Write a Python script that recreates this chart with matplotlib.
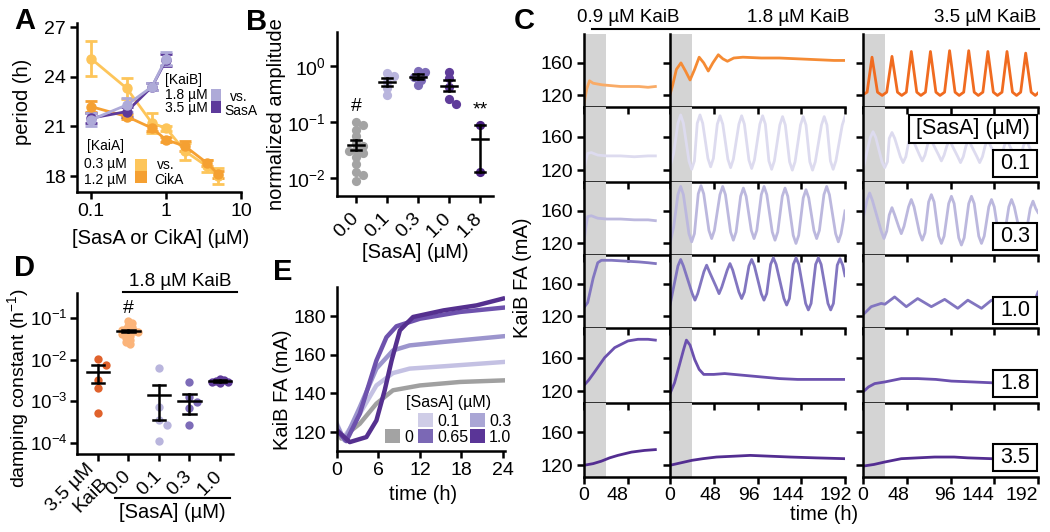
import numpy as np
import matplotlib
matplotlib.use('Agg')
import matplotlib.pyplot as plt
from matplotlib.patches import Rectangle
from matplotlib.lines import Line2D
from matplotlib.ticker import NullLocator
from matplotlib.transforms import ScaledTranslation

# ---------------- data ----------------
# A: period vs [SasA] / [CikA]
a_conc_sasa = [0.1, 0.3, 0.65, 1.0]
a_period_kaib18 = [21.4, 22.3, 23.4, 25.1]
a_err_kaib18 = [0.4, 0.4, 0.2, 0.4]
a_period_kaib35 = [21.5, 21.9, 23.4, 25.0]
a_err_kaib35 = [0.3, 0.3, 0.2, 0.35]
a_conc_cika = [0.1, 0.3, 0.65, 1.0, 1.8, 3.5, 5.0]
a_period_kaia03 = [25.1, 23.3, 21.2, 20.9, 19.5, 18.6, 18.0]
a_err_kaia03 = [1.05, 0.65, 0.6, 0.15, 0.5, 0.35, 0.5]
a_period_kaia12 = [22.2, 21.6, 20.9, 20.2, 19.8, 18.8, 18.1]
a_err_kaia12 = [0.35, 0.15, 0.2, 0.15, 0.3, 0.2, 0.2]

# B: normalized amplitude
b_cats = ['0.0', '0.1', '0.3', '1.0', '1.8']
b_pts_00 = [0.098, 0.088, 0.072, 0.055, 0.042, 0.037, 0.032, 0.030, 0.028,
            0.024, 0.018, 0.013, 0.0114, 0.0087]
b_pts_01 = [0.73, 0.66, 0.52, 0.40, 0.30]
b_pts_03 = [0.80, 0.78, 0.64, 0.56, 0.45]
b_pts_10 = [0.78, 0.60, 0.42, 0.26, 0.21]
b_pts_18 = [0.088, 0.0128]
b_mean = [0.039, 0.52, 0.64, 0.44, 0.049]
b_lo = [0.032, 0.44, 0.57, 0.35, 0.0128]
b_hi = [0.048, 0.60, 0.71, 0.55, 0.088]

# D: damping constant
d_cats = ['3.5 µM\nKaiB', '0.0', '0.1', '0.3', '1.0']
d_pts_kaib = [0.0104, 0.0076, 0.0033, 0.0021, 0.00052]
d_pts_00 = [0.085, 0.075, 0.066, 0.060, 0.055, 0.052, 0.050, 0.048, 0.046,
            0.044, 0.041, 0.038, 0.034, 0.030, 0.026, 0.024]
d_pts_01 = [0.0063, 0.00073, 0.00036, 0.00028, 0.000115]
d_pts_03 = [0.0030, 0.0013, 0.00095, 0.00069, 0.00028]
d_pts_10 = [0.0034, 0.0032, 0.0031, 0.0030, 0.0029, 0.0027]
d_mean = [0.005, 0.048, 0.00145, 0.001, 0.0031]
d_lo = [0.0028, 0.045, 0.00036, 0.0005, 0.0030]
d_hi = [0.0073, 0.052, 0.0025, 0.0015, 0.0032]

# E: KaiB FA over first day
e_labels = ['0', '0.1', '0.3', '0.65', '1.0']
e_t_0 = [0, 0.6, 3.3, 5.7, 8.1, 12, 17.8, 24]
e_v_0 = [123.4, 116.6, 124.3, 134.7, 141.6, 144.1, 145.9, 146.7]
e_t_01 = [0, 0.9, 3.3, 5.7, 8.1, 10.5, 15.4, 24]
e_v_01 = [124.3, 116.6, 129.5, 144.1, 150.5, 152.8, 154.0, 156.2]
e_t_03 = [0, 1.1, 3.3, 5.7, 8.1, 10.5, 15.4, 24]
e_v_03 = [123.4, 115.7, 132.9, 152.8, 162.2, 164.8, 166.6, 169.5]
e_t_065 = [0, 1.35, 3.3, 5.7, 7.15, 8.6, 12, 17.8, 24]
e_v_065 = [120.9, 115.3, 129.5, 157.0, 169.0, 174.7, 178.6, 182.1, 184.3]
e_t_10 = [0, 1.84, 4.25, 5.7, 6.9, 7.9, 9.1, 11, 15.4, 20.2, 24]
e_v_10 = [120.9, 114.8, 117.4, 126.0, 141.6, 157.0, 172.6, 179.5, 182.9, 185.5, 189.0]

# C: KaiB FA traces, columns = [KaiB] 0.9 / 1.8 / 3.5 uM,
# rows = no SasA, then 0.1, 0.3, 1.0, 1.8, 3.5 uM SasA
c_kaib = ['0.9 µM KaiB', '1.8 µM KaiB', '3.5 µM KaiB']
c_sasa = ['0.1', '0.3', '1.0', '1.8', '3.5']

k09_r1_t = [0, 3, 6, 10, 15, 20, 30, 40, 50, 60, 70, 78]
k09_r1_v = [110, 128, 138, 135, 134, 133, 132, 131, 131, 131, 130, 131]
k09_r2_t = [0, 2, 4, 8, 15, 25, 40, 55, 70, 78]
k09_r2_v = [121, 132, 140, 141, 138, 137, 137, 136, 137, 137]
k09_r3_t = [0, 2, 4, 8, 15, 25, 40, 55, 70, 78]
k09_r3_v = [122, 140, 153, 154, 151, 150, 150, 149, 149, 148]
k09_r4_t = [0, 4, 10, 15, 19, 30, 45, 60, 70, 78]
k09_r4_v = [131, 137, 167, 186, 189, 189, 188, 187, 186, 185]
k09_r5_t = [0, 5, 11.6, 22.5, 33.5, 48, 59, 70, 78]
k09_r5_v = [127, 133, 143, 160, 172, 180, 182, 182, 181]
k09_r6_t = [0, 10, 19, 28, 37, 52, 66, 78]
k09_r6_v = [120, 122, 125, 129, 132, 136, 138, 139]

k18_r1_t = [0, 3, 7, 12, 17, 22, 27, 32, 37, 42, 47, 53, 58, 63, 70, 80, 100,
            120, 140, 160, 180, 192]
k18_r1_v = [121, 133, 152, 160, 150, 139, 152, 167, 160, 150, 160, 170, 165,
            162, 166, 167, 166, 166, 165, 164, 163, 163]
k18_r2_t = [0, 4, 8.7, 11.7, 14.7, 20.8, 23.8, 26.8, 29.9, 32.9, 35.9, 41.6,
            44.6, 47.6, 51.9, 54.9, 57.9, 63.5, 66.5, 69.5, 75.6, 78.6, 81.6,
            86.6, 89.6, 92.6, 98.6, 101.6, 104.6, 108.5, 111.5, 114.5, 120.5,
            123.5, 126.5, 131.2, 134.2, 137.2, 143.2, 146.2, 149.2, 153.4,
            156.4, 159.4, 166.2, 169.2, 172.2, 176, 179, 182, 189, 192]
k18_r2_v = [124, 140, 176, 186, 176, 131, 121, 131, 176, 186, 176, 134, 124,
            134, 175, 185, 175, 133, 123, 133, 175, 185, 175, 132, 122, 132,
            175, 185, 175, 131, 121, 131, 174, 184, 174, 130, 120, 130, 174,
            184, 174, 130, 120, 130, 174, 184, 174, 131, 121, 131, 174, 184]
k18_r3_t = [0, 4, 8.7, 11.7, 14.7, 20.8, 23.8, 26.8, 31, 34, 37, 42.7, 45.7,
            48.7, 54.8, 57.8, 60.8, 66.5, 69.5, 72.5, 77.5, 80.5, 83.5, 89.2,
            92.2, 95.2, 100.2, 103.2, 106.2, 112.2, 115.2, 118.2, 123.2, 126.2,
            129.2, 135.2, 138.2, 141.2, 146.2, 149.2, 152.2, 157.9, 160.9,
            163.9, 168.9, 171.9, 174.9, 181.7, 184.7, 187.7, 192]
k18_r3_v = [120, 140, 180, 190, 180, 132, 122, 132, 181, 191, 181, 136, 126,
            136, 180, 190, 180, 134, 124, 134, 178, 188, 178, 136, 126, 136,
            180, 190, 180, 134, 124, 134, 178, 188, 178, 130, 120, 130, 176,
            186, 176, 136, 126, 136, 180, 190, 180, 132, 122, 132, 160]
k18_r4_t = [0, 8.7, 11.7, 14.7, 24.4, 27.4, 30.4, 37.2, 40.2, 43.2, 50.8, 53.8,
            56.8, 62.8, 65.8, 68.8, 75.6, 78.6, 81.6, 86.6, 89.6, 92.6, 100.1,
            103.1, 106.1, 110.4, 113.4, 116.4, 125, 128, 131, 135.3, 138.3,
            141.3, 148.8, 151.8, 154.8, 159.8, 162.8, 165.8, 173.3, 176.3,
            179.3, 183.5, 186.5, 189.5, 192]
k18_r4_v = [134, 182, 190, 182, 148, 140, 148, 175, 183, 175, 156, 148, 156,
            177, 185, 177, 150, 142, 150, 182, 190, 182, 148, 140, 148, 184,
            192, 184, 142, 134, 142, 184, 192, 184, 136, 128, 136, 184, 192,
            184, 136, 128, 136, 183, 191, 183, 170]
k18_r5_t = [0, 5, 10, 15, 18, 22, 27, 32, 37, 48, 60, 80, 100, 120, 140, 160, 192]
k18_r5_v = [117, 130, 150, 170, 181, 175, 158, 146, 140, 140, 141, 139, 137,
            135, 134, 134, 134]
k18_r6_t = [0, 12, 24, 36, 51, 70, 88, 110, 132, 160, 192]
k18_r6_v = [120, 123, 126, 128, 130, 131, 132, 131, 130, 129, 128]

k35_r1_t = [0, 4.5, 9.9, 15.9, 21, 26, 31.8, 37.8, 42.5, 47.5, 53, 59, 63.5,
            68.5, 74, 80, 84.5, 89.5, 95, 101, 105.5, 110.5, 116, 122, 126.5,
            131.5, 137, 143, 147.5, 152.5, 158, 164, 168.5, 173, 178.5, 184.5,
            189, 192]
k35_r1_v = [121, 124, 167, 124, 120, 124, 168, 124, 120, 124, 174, 124, 120,
            124, 174, 124, 120, 124, 175, 124, 120, 124, 175, 124, 120, 124,
            174, 124, 120, 124, 174, 124, 120, 124, 172, 124, 120, 123]
k35_r2_t = [0, 8, 11, 14, 20.8, 23.8, 26.8, 28.8, 31.8, 34.8, 41, 44, 47, 50,
            53, 56, 62, 65, 68, 71, 74, 77, 83, 86, 89, 92, 95, 98, 104, 107,
            110, 113, 116, 119, 125, 128, 131, 134, 137, 140, 146, 149, 152,
            155, 158, 161, 167, 170, 173, 176, 179, 182, 187, 190, 192]
k35_r2_v = [121, 159, 166, 159, 130, 123, 130, 158, 165, 158, 136, 129, 136,
            153, 160, 153, 138, 131, 138, 151, 158, 151, 138, 131, 138, 149,
            156, 149, 136, 129, 136, 149, 156, 149, 136, 129, 136, 149, 156,
            149, 136, 129, 136, 149, 156, 149, 136, 129, 136, 149, 156, 149,
            137, 130, 135]
k35_r3_t = [0, 4.3, 7.3, 10.3, 20, 23, 26, 28.8, 31.8, 34.8, 39, 42, 45, 50,
            53, 56, 62, 65, 68, 72, 75, 78, 83, 86, 89, 94, 97, 100, 105, 108,
            111, 116, 119, 122, 127, 130, 133, 138, 141, 144, 149, 152, 155,
            160, 163, 166, 172.6, 175.6, 178.6, 183.5, 186.5, 189.5, 192]
k35_r3_v = [150, 173, 182, 173, 135, 126, 135, 155, 164, 155, 141, 132, 141,
            165, 174, 165, 133, 124, 133, 171, 180, 171, 129, 120, 129, 169,
            178, 169, 127, 118, 127, 169, 178, 169, 129, 120, 129, 165, 174,
            165, 129, 120, 129, 165, 174, 165, 131, 122, 131, 163, 172, 163, 158]
k35_r4_t = [0, 9, 20, 24, 34.7, 47.5, 60, 75, 89.6, 104, 115, 130, 141, 155,
            166, 180, 190, 192]
k35_r4_v = [122, 132, 136, 135, 144, 132, 142, 132, 141, 130, 140, 130, 140,
            131, 142, 133, 144, 150]
k35_r5_t = [0, 6, 12.8, 24, 42, 60, 80, 97, 120, 141, 165, 192]
k35_r5_v = [119, 125, 129, 131, 135, 135, 134, 132, 131, 130, 130, 130]
k35_r6_t = [0, 12, 24, 42, 60, 78.6, 100, 115, 141, 165, 192]
k35_r6_v = [119, 121, 124, 128, 129, 130, 130, 129, 128, 128, 128]

# ---------------- style ----------------
plt.rcParams['font.family'] = ['Liberation Sans', 'DejaVu Sans']
plt.rcParams['mathtext.fontset'] = 'custom'
plt.rcParams['mathtext.rm'] = 'Liberation Sans'
plt.rcParams['mathtext.it'] = 'Liberation Sans:italic'
plt.rcParams['mathtext.bf'] = 'Liberation Sans:bold'
plt.rcParams['axes.linewidth'] = 1.8

W, H = 1050, 532
TICK = 14
LAB = 14.5

purple_light = '#b9b5dd'
purple_mid = '#7d6cb8'
purple_dark = '#5f3c9a'
purple_darker = '#4a2282'


def box(l, t, r, b):
    return [l / W, 1 - b / H, (r - l) / W, (b - t) / H]


def ftext(x, y, s, **kw):
    return fig.text(x / W, 1 - y / H, s, **kw)


def frect(l, t, w, h, **kw):
    r = Rectangle((l / W, 1 - (t + h) / H), w / W, h / H,
                  transform=fig.transFigure, **kw)
    fig.add_artist(r)


def fline(x0, x1, y0, y1, lw=1.5):
    fig.add_artist(Line2D([x0 / W, x1 / W], [1 - y0 / H, 1 - y1 / H],
                          transform=fig.transFigure, color='black', lw=lw))


def style(ax):
    ax.spines['top'].set_visible(False)
    ax.spines['right'].set_visible(False)
    ax.tick_params(direction='out', length=5, width=1.8, labelsize=TICK, pad=3)


def swarm_x(vals, center, px_cat, px_dec, diam):
    # simple beeswarm: push points sideways until they stop overlapping
    placed = []
    xs = []
    for v in vals:
        y = np.log10(v) * px_dec
        off = 0.0
        for k in range(40):
            off = ((k + 1) // 2) * (1 if k % 2 else -1) * diam * 0.5
            if all((off - px) ** 2 + (y - py) ** 2 >= (diam * 0.9) ** 2
                   for px, py in placed):
                break
        placed.append((off, y))
        xs.append(center + off / px_cat)
    return xs


def rot_labels(ax):
    for lab in ax.get_xticklabels():
        lab.set_rotation(45)
        lab.set_ha('right')
        lab.set_va('center')
        lab.set_rotation_mode('anchor')
        lab.set_multialignment('right')


def errbars(ax, means, lo, hi, wm, wc):
    for i, (m, l, h) in enumerate(zip(means, lo, hi)):
        ax.plot([i - wm, i + wm], [m, m], color='black', lw=1.8, zorder=5)
        ax.plot([i, i], [l, h], color='black', lw=1.8, zorder=5)
        ax.plot([i - wc, i + wc], [l, l], color='black', lw=1.8, zorder=5)
        ax.plot([i - wc, i + wc], [h, h], color='black', lw=1.8, zorder=5)


fig = plt.figure(figsize=(W / 100, H / 100), dpi=100)

# ---------------- A ----------------
axA = fig.add_axes(box(77, 23, 241, 192))
style(axA)
axA.set_xscale('log')
ek = dict(fmt='-o', ms=6.5, lw=2, elinewidth=2, capsize=4, capthick=2)
axA.errorbar(a_conc_cika, a_period_kaia03, yerr=a_err_kaia03, color='#fdc55a', **ek)
axA.errorbar(a_conc_cika, a_period_kaia12, yerr=a_err_kaia12, color='#f5a032', **ek)
axA.errorbar(a_conc_sasa, a_period_kaib35, yerr=a_err_kaib35, color='#5d3a9b', **ek)
axA.errorbar(a_conc_sasa, a_period_kaib18, yerr=a_err_kaib18, color='#aeaad8', **ek)
axA.set_xlim(0.065, 10)
axA.set_ylim(17.04, 27.25)
axA.set_xticks([0.1, 1, 10])
axA.set_xticklabels(['0.1', '1', '10'])
axA.xaxis.set_minor_locator(NullLocator())
axA.set_yticks([18, 21, 24, 27])
ftext(22, 102, 'period (h)', rotation=90, ha='center', va='center', fontsize=LAB)
ftext(161, 238, '[SasA or CikA] (µM)', ha='center', va='center', fontsize=LAB)
# legend A
LG = 10
ftext(183, 80, '[KaiB]', ha='center', va='center', fontsize=LG)
ftext(208, 95, '1.8 µM', ha='right', va='center', fontsize=LG)
ftext(208, 108, '3.5 µM', ha='right', va='center', fontsize=LG)
frect(211, 89, 10, 12, color='#aeaad8', lw=0)
frect(211, 101, 10, 12, color='#5d3a9b', lw=0)
ftext(239, 97, 'vs.', ha='center', va='center', fontsize=LG)
ftext(241, 111, 'SasA', ha='center', va='center', fontsize=LG)
ftext(105, 146, '[KaiA]', ha='center', va='center', fontsize=LG)
ftext(127, 164, '0.3 µM', ha='right', va='center', fontsize=LG)
ftext(127, 180, '1.2 µM', ha='right', va='center', fontsize=LG)
frect(135, 159, 12, 12, color='#fdc55a', lw=0)
frect(135, 171, 12, 12, color='#f5a032', lw=0)
ftext(166, 165, 'vs.', ha='center', va='center', fontsize=LG)
ftext(169, 180, 'CikA', ha='center', va='center', fontsize=LG)

# ---------------- B ----------------
axB = fig.add_axes(box(337, 32, 493, 196))
style(axB)
axB.set_yscale('log')
axB.set_ylim(10 ** -2.32, 10 ** 0.6)
axB.set_xlim(-0.61, 4.42)
b_sets = [b_pts_00, b_pts_01, b_pts_03, b_pts_10, b_pts_18]
b_cols = ['#a3a3a3', purple_light, purple_mid, purple_dark, purple_darker]
for i, (vals, col) in enumerate(zip(b_sets, b_cols)):
    xs = swarm_x(vals, i, 31, 56, 7)
    axB.scatter(xs, vals, s=44, color=col, lw=0, zorder=3)
errbars(axB, b_mean, b_lo, b_hi, 0.27, 0.15)
axB.set_xticks(range(len(b_cats)))
axB.set_xticklabels(b_cats)
axB.tick_params(axis='x', pad=9)
rot_labels(axB)
axB.yaxis.set_minor_locator(NullLocator())
axB.set_yticks([1e-2, 1e-1, 1e0])
axB.text(0, 10 ** -0.73, '#', ha='center', va='center', fontsize=TICK)
axB.text(4, 10 ** -0.79, '**', ha='center', va='center', fontsize=TICK)
ftext(277, 114, 'normalized amplitude', rotation=90, ha='center', va='center', fontsize=LAB)
ftext(415, 253, '[SasA] (µM)', ha='center', va='center', fontsize=LAB)

# ---------------- D ----------------
axD = fig.add_axes(box(77, 293, 233, 454))
style(axD)
axD.tick_params(axis='y', labelsize=13.5, pad=2)
axD.set_yscale('log')
axD.set_ylim(10 ** -4.26, 10 ** -0.4)
axD.set_xlim(-0.69, 4.43)
d_sets = [d_pts_kaib, d_pts_00, d_pts_01, d_pts_03, d_pts_10]
d_cols = ['#e0622c', '#fbb47a', purple_light, purple_mid, purple_dark]
d_gap = [8, 4, 8, 8, 4]
for i, (vals, col) in enumerate(zip(d_sets, d_cols)):
    xs = swarm_x(vals, i, 30.5, 41.7, d_gap[i])
    axD.scatter(xs, vals, s=36, color=col, lw=0, zorder=3)
errbars(axD, d_mean, d_lo, d_hi, 0.37, 0.2)
axD.set_xticks(range(len(d_cats)))
axD.set_xticklabels(d_cats)
axD.tick_params(axis='x', pad=9)
rot_labels(axD)
axD.yaxis.set_minor_locator(NullLocator())
axD.set_yticks([1e-4, 1e-3, 1e-2, 1e-1])
axD.text(1, 10 ** -0.76, '#', ha='center', va='center', fontsize=TICK)
ftext(18, 388, 'damping constant (h$^{-1}$)', rotation=90, ha='center', va='center', fontsize=14)
ftext(180, 282, '1.8 µM KaiB', ha='center', va='center', fontsize=LAB - 1)
fline(123, 237, 292, 292)
ftext(172, 512, '[SasA] (µM)', ha='center', va='center', fontsize=LAB)
fline(115, 230, 498, 498)

# ---------------- E ----------------
axE = fig.add_axes(box(337, 287, 505, 451))
style(axE)
e_ts = [e_t_0, e_t_01, e_t_03, e_t_065, e_t_10]
e_vs = [e_v_0, e_v_01, e_v_03, e_v_065, e_v_10]
e_cols = ['#a0a0a0', '#c4c1e3', '#9c95cd', '#6e52ad', '#55308f']
for t, v, col in zip(e_ts, e_vs, e_cols):
    axE.plot(t, v, color=col, lw=3.2)
axE.set_xlim(0, 24.3)
axE.set_ylim(110.2, 195)
axE.set_xticks([0, 6, 12, 18, 24])
axE.set_yticks([120, 140, 160, 180])
ftext(283, 390, 'KaiB FA (mA)', rotation=90, ha='center', va='center', fontsize=LAB)
ftext(423, 495, 'time (h)', ha='center', va='center', fontsize=LAB)
LE = 11.5
ftext(449, 402, '[SasA] (µM)', ha='center', va='center', fontsize=LE)
e_leg_cols = ['#a3a3a3', '#cfcde7', '#aaa6d5', '#7b68b5', '#5a3597']
e_leg_pos = [(385, 429), (418, 413), (470, 413), (418, 429), (470, 429)]
for lab, col, (x, y) in zip(e_labels, e_leg_cols, e_leg_pos):
    frect(x, y, 15, 14, color=col, lw=0)
    ftext(x + 19, y + 8, lab, ha='left', va='center', fontsize=LE)

# ---------------- C ----------------
c_cols = [(584, 670, 94), (670, 845, 192), (863, 1038, 192)]
c_tops = [34, 107, 182, 255, 328, 403]
c_bots = [107, 182, 255, 328, 403, 477]
c_data = [
    [(k09_r1_t, k09_r1_v), (k09_r2_t, k09_r2_v), (k09_r3_t, k09_r3_v),
     (k09_r4_t, k09_r4_v), (k09_r5_t, k09_r5_v), (k09_r6_t, k09_r6_v)],
    [(k18_r1_t, k18_r1_v), (k18_r2_t, k18_r2_v), (k18_r3_t, k18_r3_v),
     (k18_r4_t, k18_r4_v), (k18_r5_t, k18_r5_v), (k18_r6_t, k18_r6_v)],
    [(k35_r1_t, k35_r1_v), (k35_r2_t, k35_r2_v), (k35_r3_t, k35_r3_v),
     (k35_r4_t, k35_r4_v), (k35_r5_t, k35_r5_v), (k35_r6_t, k35_r6_v)],
]
row1_cols = ['#f9ab66', '#f58b34', '#f06b20']
row_cols = ['#dddbef', '#bcb8de', '#8276c0', '#6b50ae', '#532d91']
# bottom tick labels sit a little left of their ticks in the original
c_label_shift = [[0, -10], [0, -3, -9, -13, -9], [0, -8, -6, -16, -16]]
for ci, (l, r, xmax) in enumerate(c_cols):
    for ri in range(6):
        ax = fig.add_axes(box(l, c_tops[ri], r, c_bots[ri]))
        style(ax)
        ax.tick_params(axis='x', pad=2)
        ax.axvspan(0, 24, color='#d4d4d4', lw=0, zorder=0)
        t, v = c_data[ci][ri]
        col = row1_cols[ci] if ri == 0 else row_cols[ri - 1]
        ax.plot(t, v, color=col, lw=2, zorder=2)
        ax.set_xlim(0, xmax)
        ax.set_ylim(105.8, 195.5)
        ax.set_xticks([0, 48] if ci == 0 else [0, 48, 96, 144, 192])
        ax.set_yticks([120, 160])
        if ci > 0:
            ax.set_yticklabels([])
        if ri < 5:
            ax.set_xticklabels([])
        else:
            for lab, dx in zip(ax.get_xticklabels(), c_label_shift[ci]):
                lab.set_transform(lab.get_transform()
                                  + ScaledTranslation(dx / 100, 0, fig.dpi_scale_trans))
        ax.patch.set_alpha(0)

for s, x, ha in zip(c_kaib, [628, 798, 1037], ['center', 'center', 'right']):
    ftext(x, 18, s, ha=ha, va='center', fontsize=13.5)
fline(592, 1039, 29, 29)
ftext(523, 278, 'KaiB FA (mA)', rotation=90, ha='center', va='center', fontsize=LAB)
ftext(824, 515, 'time (h)', ha='center', va='center', fontsize=LAB)

# boxed SasA labels in the right column
frect(909, 115, 128, 28, fc='white', ec='black', lw=1.5, zorder=6)
ftext(973, 129, '[SasA] (µM)', ha='center', va='center', fontsize=15.5, zorder=7)
c_box_y = [150, 223, 297, 370, 444]
for s, y in zip(c_sasa, c_box_y):
    frect(993, y, 44, 27, fc='white', ec='black', lw=1.5, zorder=6)
    ftext(1015, y + 13.5, s, ha='center', va='center', fontsize=15.5, zorder=7)

# panel letters
for s, x, y in [('A', 25, 21), ('B', 257, 22), ('C', 524, 21), ('D', 24, 268), ('E', 283, 272)]:
    ftext(x, y, s, ha='center', va='center', fontsize=21, fontweight='bold')

fig.savefig('out.png', dpi=100)
